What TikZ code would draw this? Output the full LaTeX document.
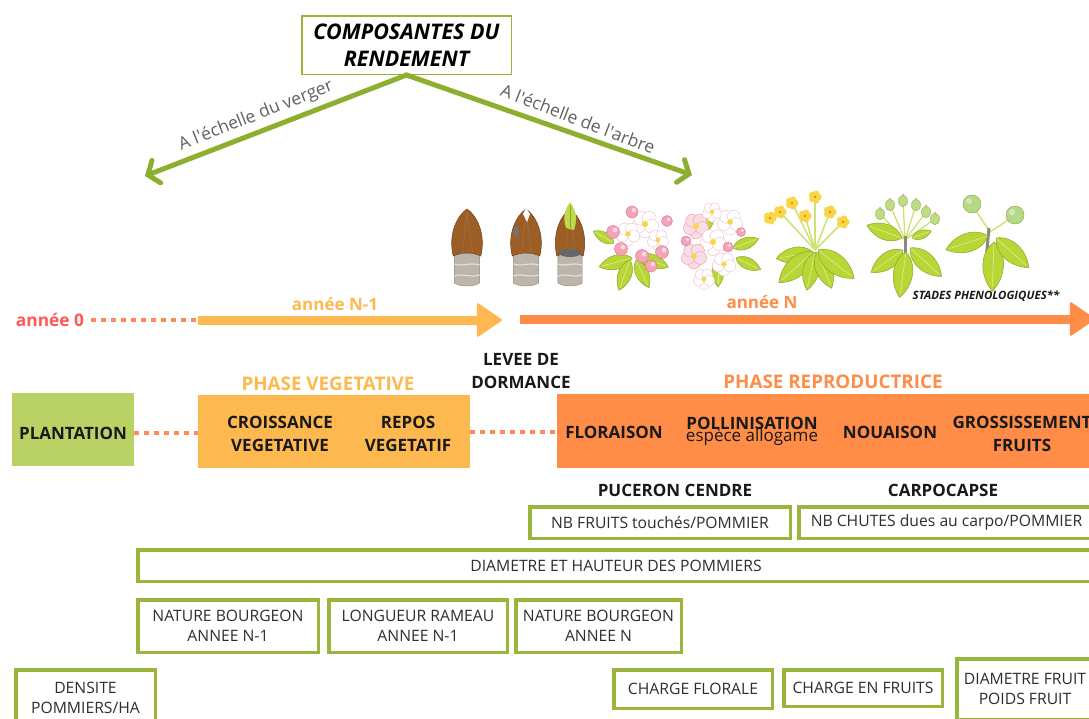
\documentclass[tikz,border=0pt]{standalone}
\usepackage{fontspec}
\setmainfont{Open Sans}
\usetikzlibrary{arrows.meta}
\definecolor{vgreen}{HTML}{9AB53C}
\definecolor{agreen}{HTML}{8DAE2E}
\definecolor{plantg}{HTML}{BAD166}
\definecolor{vyellow}{HTML}{FDB94F}
\definecolor{rorange}{HTML}{FF8C47}
\definecolor{redzero}{HTML}{FF5757}
\definecolor{dotc}{HTML}{FF8A5C}
\definecolor{txt}{HTML}{2E2E2E}
\definecolor{leafg}{HTML}{B9D637}
\definecolor{leafd}{HTML}{86A82A}
\definecolor{leafv}{HTML}{E4F0A0}
\definecolor{pinkb}{HTML}{F4A4B8}
\definecolor{pinkd}{HTML}{D9728F}
\definecolor{petal}{HTML}{F2C6D2}
\definecolor{yfl}{HTML}{F8D64A}
\definecolor{gbudc}{HTML}{BFDB86}
\definecolor{fruitc}{HTML}{B5D98A}
\definecolor{stemg}{HTML}{BCB5AA}
\definecolor{stemd}{HTML}{8E877C}
\definecolor{budb}{HTML}{9C5E25}
\definecolor{budd}{HTML}{6E3F14}
\tikzset{
  gbox/.style={draw=vgreen, line width=3.5pt, fill=white, align=center, inner sep=0pt,
    text=txt, font=\fontsize{15.7}{20.5}\selectfont},
  phasebox/.style={draw=none, inner sep=0pt},
  ptext/.style={font=\bfseries\fontsize{17}{23}\selectfont, text=black!90, align=center, inner sep=0pt},
  dotl/.style={draw=dotc, line width=4pt, dash pattern=on 5pt off 5pt},
  garrow/.style={draw=agreen, line width=5pt, line cap=round,
    -{Straight Barb[length=9pt,width=24pt,line cap=round]}},
  tarrow/.style={line width=9pt, -{Triangle[length=26pt,width=35pt,round,line width=2pt]}},
  slabel/.style={text=black!62, font=\fontsize{17.5}{20}\selectfont, inner sep=0pt},
  leaf/.pic={
    \filldraw[fill=leafg, draw=leafd, line width=0.5pt] (0,0) .. controls (8,-10) and (24,-9) .. (34,0) .. controls (24,9) and (8,10) .. (0,0) -- cycle;
    \draw[leafv, line width=0.5pt] (1,0) -- (31,0);
  },
  budbase/.pic={
    \filldraw[fill=stemg, draw=stemd, line width=0.4pt] (-11,-2) -- (-11,31) .. controls (-6,35) and (6,35) .. (11,31) -- (11,-2) -- cycle;
    \draw[white!60!stemg, line width=1.2pt] (-11,12) .. controls (-4,15) and (2,10) .. (11,13);
    \draw[white!60!stemg, line width=1.2pt] (-11,24) .. controls (-4,21) and (4,26) .. (11,23);
    \filldraw[fill=budb, draw=budd, line width=0.5pt] (-12,4) .. controls (-17,-20) and (-7,-38) .. (0,-43) .. controls (7,-38) and (17,-20) .. (12,4) .. controls (5,0) and (-5,0) .. (-12,4) -- cycle;
    \draw[budd!70, line width=0.4pt] (0,-40) -- (-4,2) (0,-40) -- (5,2);
  },
  blossom/.pic={
    \foreach \a in {90,162,234,306,18}{\filldraw[fill=white, draw=petal, line width=0.5pt] (\a:5) circle (5);}
    \fill[yfl] (0,0) circle (2.2);
  },
  pblossom/.pic={
    \foreach \a in {90,162,234,306,18}{\filldraw[fill=petal!60!white, draw=pinkb, line width=0.5pt] (\a:5) circle (5);}
    \fill[yfl] (0,0) circle (2.2);
  },
  pinkbud/.pic={\filldraw[fill=pinkb, draw=pinkd, line width=0.4pt] (0,0) circle (5); \fill[white, opacity=.6] (1.5,-1.5) circle (1.8);},
  yflower/.pic={\foreach \a in {0,72,...,288}{\fill[yfl] (\a:2.8) circle (2.8);} \fill[orange] (0,0) circle (1.2);},
  gbud/.pic={\filldraw[fill=gbudc, draw=leafd, line width=0.3pt] (0,0) ellipse (4 and 5); \fill[budb!50] (0,-5) circle (1.3);},
  fruit/.pic={\filldraw[fill=fruitc, draw=leafd, line width=0.4pt] (0,0) circle (9); \fill[white,opacity=.4] (-3,-3) circle (3);},
}
\begin{document}
\begin{tikzpicture}[x=1pt,y=-1pt]
\useasboundingbox (0,0) rectangle (1089,718);
\clip (0,0) rectangle (1089,718);

% ---- title and green arrows
\node[draw=vgreen, line width=1.5pt, minimum width=209.5pt, minimum height=58.5pt, align=center, inner sep=0pt,
  font=\bfseries\itshape\fontsize{21.5}{27}\selectfont] (title) at (406.5,45) {COMPOSANTES DU\\RENDEMENT};
\coordinate (gl) at (145,176);
\coordinate (gr) at (692,175);
\draw[garrow] (title.south) -- (gl);
\draw[garrow] (title.south) -- (gr);
\node[slabel, rotate=21.5] (lverger) at (256,116) {A l\textquotesingle échelle du verger};
\node[slabel, rotate=-21] (larbre) at (578,119) {A l\textquotesingle échelle de l\textquotesingle arbre};

% ---- phenological stages
\pic[xscale=1.15] at (467,252) {budbase};
\pic[xscale=1.15] at (526,252) {budbase};
\fill[white] (523,214) -- (526,208) -- (530,214) -- (527,222) -- cycle;
\fill[black!55] (516,232) ellipse (2.5 and 6);
\pic[xscale=1.1] at (570,252) {budbase};
\fill[leafg!90!white] (566,228) .. controls (562,215) and (566,208) .. (570,202) .. controls (576,210) and (578,218) .. (574,230) -- cycle;
\draw[leafd, line width=0.4pt] (570,205) -- (570,228);
\fill[black!60] (570,253) ellipse (11 and 4);

% flower 1
\pic[rotate=195, scale=1.0] at (632,258) {leaf};
\pic[rotate=150, scale=0.7] at (614,243) {leaf};
\pic[rotate=250, scale=0.95] at (630,260) {leaf};
\pic[rotate=295, scale=0.9] at (636,260) {leaf};
\pic[rotate=340, scale=0.95] at (638,256) {leaf};
\pic[scale=1.4] at (645,224) {blossom};
\pic[scale=1.2] at (628,234) {blossom};
\pic[scale=1.1] at (658,240) {blossom};
\pic[scale=1.3] at (613,232) {pinkbud};
\pic[scale=1.3] at (621,249) {pinkbud};
\pic[scale=1.3] at (642,256) {pinkbud};
\pic[scale=1.3] at (662,252) {pinkbud};
\pic[scale=1.1] at (667,221) {pinkbud};
\pic[scale=1.2] at (632,212) {pinkbud};
\pic[scale=1.2] at (651,266) {pinkbud};

% flower 2
\pic[rotate=20, scale=0.8] at (733,248) {leaf};
\pic[rotate=335, scale=0.8] at (736,258) {leaf};
\pic[rotate=270, scale=0.85] at (718,258) {leaf};
\pic[rotate=80, scale=0.75] at (706,232) {leaf};
\pic[scale=1.3] at (696,226) {pblossom};
\pic[scale=1.35] at (713,242) {blossom};
\pic[scale=1.3] at (730,222) {blossom};
\pic[scale=1.2] at (724,264) {blossom};
\pic[scale=1.3] at (694,256) {pblossom};
\pic[scale=1.1] at (704,279) {blossom};
\pic[scale=1.0] at (712,212) {blossom};
\pic[scale=1.0] at (686,241) {pinkbud};
\pic[scale=1.0] at (728,247) {pinkbud};
\pic[scale=0.9] at (741,232) {pinkbud};

% flower 3
\foreach \p in {(780,212),(792,203),(815,197),(830,212),(843,222),(805,216)}
  \draw[leafg!70!white, line width=1.5pt] (815,250) -- \p;
\pic[rotate=190, scale=1.1] at (813,252) {leaf};
\pic[rotate=222, scale=1.35] at (813,252) {leaf};
\pic[rotate=258, scale=1.15] at (815,252) {leaf};
\pic[rotate=292, scale=1.15] at (817,252) {leaf};
\pic[rotate=322, scale=1.35] at (818,250) {leaf};
\foreach \p in {(780,212),(792,203),(815,197),(830,212),(843,222),(805,216),(770,218)}
  \pic[scale=1.2] at \p {yflower};

% flower 4
\foreach \p in {(880,214),(890,205),(903,201),(916,205),(926,212),(935,219)}
  \draw[leafg!70!white, line width=1.3pt] (905,240) -- \p;
\draw[stemd, line width=3pt] (905,236) -- (905,262);
\pic[rotate=160, scale=1.1] at (902,238) {leaf};
\pic[rotate=215, scale=1.15] at (903,250) {leaf};
\pic[rotate=262, scale=1.35] at (906,252) {leaf};
\pic[rotate=318, scale=1.25] at (910,248) {leaf};
\pic[rotate=20, scale=0.6] at (912,238) {leaf};
\foreach \p in {(880,214),(890,205),(903,201),(916,205),(926,212),(935,219)}
  \pic[scale=1.15] at \p {gbud};

% flower 5
\draw[leafg!70!white, line width=1.5pt] (990,232) -- (972,205) (990,232) -- (1014,216);
\draw[stemd, line width=3pt] (989,228) -- (986,260);
\pic[rotate=198, scale=1.3] at (988,236) {leaf};
\pic[rotate=268, scale=1.45] at (994,242) {leaf};
\pic[rotate=318, scale=1.3] at (996,238) {leaf};
\pic at (972,204) {fruit};
\pic at (1015,215) {fruit};

\node[font=\bfseries\itshape\fontsize{11.5}{13}\selectfont, text=black!90] (stades) at (986,296) {STADES PHENOLOGIQUES**};

% ---- timeline
\node[text=redzero, font=\bfseries\fontsize{17.3}{20}\selectfont, inner sep=0pt] (a0) at (50,320) {année 0};
\coordinate (t1s) at (198,320);
\coordinate (t1e) at (502,320);
\coordinate (t2s) at (520,319);
\coordinate (t2e) at (1095,319);
\draw[dotl] ([xshift=7pt]a0.east) -- (t1s);
\draw[tarrow, draw=vyellow, fill=vyellow] (t1s) -- (t1e);
\draw[tarrow, draw=rorange, fill=rorange] (t2s) -- (t2e);
\node[text=vyellow, font=\bfseries\fontsize{17}{20}\selectfont] (an1) at (335,304) {année N-1};
\node[text=rorange, font=\bfseries\fontsize{17}{20}\selectfont] (an) at (762,302) {année N};

% ---- phases
\node[ptext] (levee) at (521,371.5) {LEVEE DE\\DORMANCE};
\node[text=vyellow, font=\bfseries\fontsize{18.8}{22}\selectfont] (phv) at (328,384) {PHASE VEGETATIVE};
\node[text=rorange, font=\bfseries\fontsize{18.8}{22}\selectfont] (phr) at (833,382) {PHASE REPRODUCTRICE};

\node[phasebox, fill=plantg, minimum width=122pt, minimum height=73pt] (plant) at (73,429.5) {};
\node[ptext] at (73,433) {PLANTATION};
\node[phasebox, fill=vyellow, minimum width=272pt, minimum height=73pt] (veg) at (334,431.5) {};
\node[phasebox, fill=rorange, minimum width=543pt, minimum height=74pt] (rep) at (828.5,431) {};
\draw[dotl] (plant.east |- 0,433) -- (veg.west |- 0,433);
\draw[dotl] (veg.east |- 0,432) -- (rep.west |- 0,432);

\node[ptext] (croiss) at (280,434) {CROISSANCE\\VEGETATIVE};
\node[ptext] (repos) at (408,434) {REPOS\\VEGETATIF};
\node[ptext] (flor) at (614,432) {FLORAISON};
\node[ptext] (poll) at (752,423) {POLLINISATION};
\node[text=black!90, font=\fontsize{17}{18}\selectfont, inner sep=0pt] (allog) at (752,437) {espèce allogame};
\node[ptext] (noua) at (890,432) {NOUAISON};
\node[ptext] (gross) at (1022,434) {GROSSISSEMENT\\FRUITS};

% ---- pests
\node[ptext] (puc) at (675,490) {PUCERON CENDRE};
\node[ptext] (carpo) at (943,490) {CARPOCAPSE};

% ---- components boxes
\node[gbox, minimum width=260.5pt, minimum height=31.5pt] (nbf) at (660,522.5) {NB FRUITS touchés/POMMIER};
\node[gbox, minimum width=295.5pt, minimum height=31.5pt] (nbc) at (946.5,522.5) {NB CHUTES dues au carpo/POMMIER};
\node[gbox, minimum width=956.5pt, minimum height=31.5pt] (dh) at (616,565.5) {DIAMETRE ET HAUTEUR DES POMMIERS};
\node[gbox, minimum width=180.5pt, minimum height=52.5pt] (nb1) at (228,626) {NATURE BOURGEON\\ANNEE N-1};
\node[gbox, minimum width=178.5pt, minimum height=52.5pt] (lr) at (418,626) {LONGUEUR RAMEAU\\ANNEE N-1};
\node[gbox, minimum width=165.5pt, minimum height=52.5pt] (nbn) at (598.5,626) {NATURE BOURGEON\\ANNEE N};
\node[gbox, minimum width=139.5pt, minimum height=56.5pt] (dens) at (85.5,698) {DENSITE\\POMMIERS/HA};
\node[gbox, minimum width=158.5pt, minimum height=38.5pt] (cf) at (693,689) {CHARGE FLORALE};
\node[gbox, minimum width=158.5pt, minimum height=36.5pt] (cef) at (863,688) {CHARGE EN FRUITS};
\node[gbox, minimum width=136.5pt, minimum height=60.5pt] (dpf) at (1025,689) {DIAMETRE FRUIT\\POIDS FRUIT};
\end{tikzpicture}
\end{document}
